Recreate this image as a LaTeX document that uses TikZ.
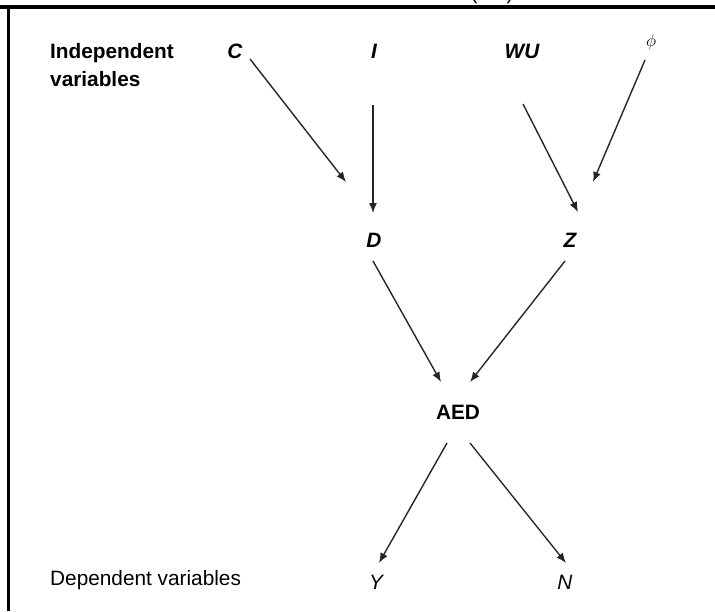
\documentclass[tikz,border=0pt]{standalone}
\usepackage{fontspec}
\setmainfont{Liberation Sans}
\usetikzlibrary{arrows.meta}
\begin{document}
\begin{tikzpicture}[x=1pt,y=-1pt,
  lbl/.style={inner sep=0pt,font=\fontsize{20.8}{27.7}\selectfont},
  var/.style={lbl,anchor=base,font=\fontsize{20.8}{25}\selectfont\bfseries\itshape},
  dvar/.style={lbl,anchor=base,font=\fontsize{20.8}{25}\selectfont\itshape},
  conn/.style={draw=black!85,line width=1.4pt,-{Latex[length=10pt,width=8pt]}},
  frame/.style={draw=black}]
\useasboundingbox (0,0) rectangle (715,611);
\clip (0,0) rectangle (715,611);
% frame
\draw[frame,line width=4pt] (0,7) -- (715,7);
\draw[frame,line width=3pt] (8,5) -- (8,611);
\node[lbl,anchor=base] (pl) at (474,-1) {(};
\node[lbl,anchor=base] (pr) at (510,-1) {)};
% labels
\node[lbl,anchor=base west,align=left,font=\fontsize{20.8}{27.7}\selectfont\bfseries] (indep) at (50,86) {Independent\\variables};
\node[lbl,anchor=base west] (dep) at (50,585) {Dependent variables};
% variables
\node[var] (C) at (235,58) {C};
\node[var] (I) at (374,58) {I};
\node[var] (WU) at (522,58) {WU};
\node[lbl,font=\fontsize{19}{22}\selectfont] (phi) at (651,42) {$\phi$};
\node[var] (D) at (374,247) {D};
\node[var] (Z) at (570,247) {Z};
\node[lbl,anchor=base,font=\fontsize{20.8}{25}\selectfont\bfseries] (AED) at (458,419) {AED};
\node[dvar] (Y) at (376,589) {Y};
\node[dvar] (N) at (565,589) {N};
% connector ends
\coordinate (C-o) at (250,59);
\coordinate (D-iC) at (346,182);
\coordinate (I-o) at (373,105);
\coordinate (D-iI) at (373,213);
\coordinate (WU-o) at (523,104);
\coordinate (Z-iW) at (578,212);
\coordinate (phi-o) at (645,60);
\coordinate (Z-iP) at (593,182);
\coordinate (D-o) at (373,261);
\coordinate (AED-iD) at (441,382);
\coordinate (Z-o) at (565,261);
\coordinate (AED-iZ) at (470,382);
\coordinate (AED-oY) at (447,443);
\coordinate (Y-i) at (379,563);
\coordinate (AED-oN) at (470,443);
\coordinate (N-i) at (566,563);
% connectors
\draw[conn] (C-o) -- (D-iC);
\draw[conn] (I-o) -- (D-iI);
\draw[conn] (WU-o) -- (Z-iW);
\draw[conn] (phi-o) -- (Z-iP);
\draw[conn] (D-o) -- (AED-iD);
\draw[conn] (Z-o) -- (AED-iZ);
\draw[conn] (AED-oY) -- (Y-i);
\draw[conn] (AED-oN) -- (N-i);
\end{tikzpicture}
\end{document}
